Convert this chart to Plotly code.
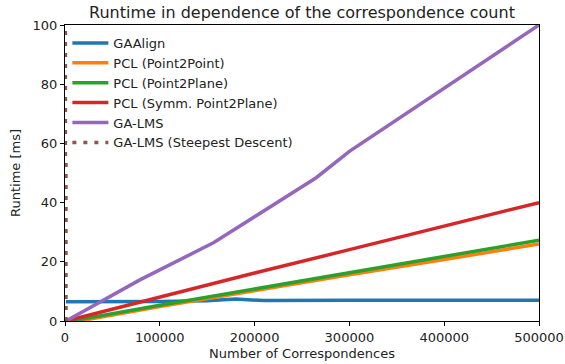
import plotly.graph_objects as go

# Data
gaalign_x = [1000, 50000, 100000, 150000, 180000, 210000, 250000, 300000, 400000, 500000]
gaalign_y = [6.5, 6.5, 6.6, 6.8, 7.4, 6.9, 7.0, 7.0, 7.0, 7.0]

p2p_x = [1000, 15000, 100000, 200000, 300000, 400000, 500000]
p2p_y = [0, 0.0, 4.9, 10.3, 15.6, 20.8, 26.0]

p2pl_x = [1000, 10000, 100000, 200000, 300000, 400000, 500000]
p2pl_y = [0, 0.2, 5.3, 10.8, 16.3, 21.8, 27.3]

sym_x = [1000, 100000, 200000, 300000, 400000, 500000]
sym_y = [0, 8.2, 16.2, 24.1, 32.0, 40.0]

galms_x = [1000, 79000, 157000, 210000, 265000, 300000, 400000, 500000]
galms_y = [0, 13.9, 26.5, 37.3, 48.4, 57.3, 78.6, 100.0]

sd_x = [1000, 1100]
sd_y = [0, 5000]

fig = go.Figure()
series = [
    ("GAAlign", gaalign_x, gaalign_y, "#1f77b4", "solid"),
    ("PCL (Point2Point)", p2p_x, p2p_y, "#ff7f0e", "solid"),
    ("PCL (Point2Plane)", p2pl_x, p2pl_y, "#2ca02c", "solid"),
    ("PCL (Symm. Point2Plane)", sym_x, sym_y, "#d62728", "solid"),
    ("GA-LMS", galms_x, galms_y, "#9467bd", "solid"),
    ("GA-LMS (Steepest Descent)", sd_x, sd_y, "#8c564b", "4px,7px"),
]
for name, x, y, c, d in series:
    fig.add_trace(go.Scatter(x=x, y=y, name=name, mode="lines",
                             line=dict(color=c, width=3.5, dash=d)))

axis_common = dict(showline=True, linecolor="black", linewidth=1, mirror=True,
                   ticks="outside", ticklen=4, tickwidth=1, tickcolor="black",
                   showgrid=False, zeroline=False, automargin=False,
                   tickfont=dict(family="DejaVu Sans", size=13, color="#222"))

fig.update_layout(
    width=565, height=364,
    margin=dict(l=65, r=26, t=25, b=43),
    paper_bgcolor="white", plot_bgcolor="white",
    font=dict(family="DejaVu Sans", color="#222"),
    title=dict(text="Runtime in dependence of the correspondence count",
               x=0.5, xanchor="center", xref="paper", y=0.967, yanchor="middle",
               font=dict(size=16, color="#222")),
    xaxis=dict(range=[0, 500000], tickvals=[0, 100000, 200000, 300000, 400000, 500000],
               ticktext=["0", "100000", "200000", "300000", "400000", "500000"],
               title=dict(text="Number of Correspondences", standoff=5,
                          font=dict(size=13)), **axis_common),
    yaxis=dict(range=[0, 100], tickvals=[0, 20, 40, 60, 80, 100],
               title=dict(text="Runtime [ms]", standoff=9, font=dict(size=13)),
               **axis_common),
    legend=dict(x=0.005, y=0.99, xanchor="left", yanchor="top",
                bgcolor="rgba(255,255,255,0.8)", borderwidth=0, itemwidth=36,
                font=dict(size=13, color="#222"), tracegroupgap=0),
    showlegend=True,
)

fig.write_html("out.html")
